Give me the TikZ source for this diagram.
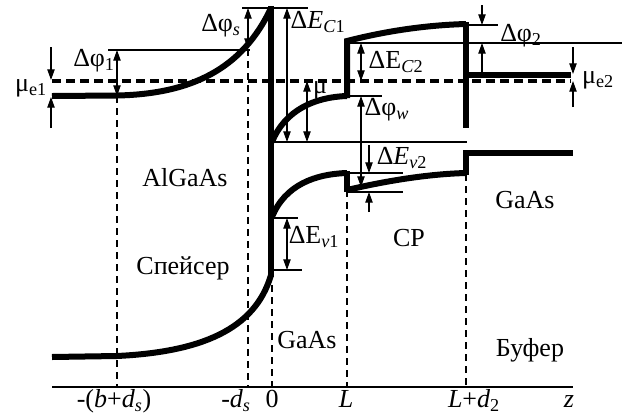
\documentclass[tikz,border=0pt]{standalone}
\usepackage{fontspec}
\setmainfont{Liberation Serif}
\usetikzlibrary{arrows.meta}
\begin{document}
\begin{tikzpicture}[x=0.75pt,y=-0.75pt,
  band/.style={line width=4.5pt,line join=miter,line cap=butt},
  fine/.style={line width=0.9pt},
  tip/.tip={Triangle[length=8pt,width=5.5pt]},
  arr/.style={fine,-tip},
  dbl/.style={fine,tip-tip},
  vdash/.style={line width=1.8pt,dash pattern=on 5.5pt off 3.5pt},
  hdash/.style={line width=2.6pt,dash pattern=on 6.5pt off 4pt},
  lbl/.style={font=\fontsize{19.5}{22}\selectfont,inner sep=0pt},
  axlbl/.style={lbl,anchor=base}]
\useasboundingbox (0,0) rectangle (622,419);

% dashed vertical lines
\draw[vdash] (117,96) -- (117,387);
\draw[vdash] (248,49) -- (248,387);
\draw[vdash] (272,285) -- (272,387);
\draw[vdash] (347,190) -- (347,387);
\draw[vdash] (466,174) -- (466,387);

% chemical potential (dashed)
\draw[hdash] (52,81) -- (571,81);

% thin reference lines
\draw[fine] (242,8) -- (308,8);
\draw[fine] (108,50) -- (250,50);
\draw[fine] (272,142) -- (467,142);
\draw[fine] (347,43) -- (622,43);
\draw[fine] (347,96) -- (382,96);
\draw[fine] (466,25) -- (498,25);
\draw[fine] (272,218) -- (298,218);
\draw[fine] (272,270) -- (302,270);
\draw[fine] (347,173) -- (403,173);
\draw[fine] (347,192) -- (403,192);

% bands
\draw[band] (52,96) -- (117,95.5) .. controls (190,94) and (242,70) .. (271,8);
\draw[band] (52,357) -- (117,356) .. controls (200,352) and (255,330) .. (271,275);
\draw[band] (271,6) -- (271,277);
\draw[band] (272,142) .. controls (285,110) and (315,97) .. (347,96);
\draw[band] (347,98) -- (347,41) .. controls (390,30) and (430,25) .. (466,24);
\draw[band] (466,22) -- (466,128);
\draw[band] (466,75) -- (571,75);
\draw[band] (272,217) .. controls (285,185) and (315,174) .. (347,173);
\draw[band] (347,171) -- (347,192);
\draw[band] (347,190) .. controls (390,180) and (430,174) .. (466,173);
\draw[band] (466,175) -- (466,153) -- (573,153);

% axis
\draw[line width=2.2pt] (52,387) -- (573,387);

% dimension arrows
\draw[arr] (51,47) -- (51,80);
\draw[arr] (51,128) -- (51,97);
\draw[dbl] (117,50) -- (117,96);
\draw[dbl] (248,8) -- (248,49);
\draw[dbl] (287,8) -- (287,142);
\draw[dbl] (307,81) -- (307,142);
\draw[dbl] (361,43) -- (361,81);
\draw[dbl] (361,96) -- (361,187);
\draw[arr] (369,145) -- (369,173);
\draw[arr] (369,212) -- (369,192);
\draw[arr] (482,5) -- (482,25);
\draw[arr] (482,73) -- (482,43);
\draw[arr] (573,47) -- (573,74);
\draw[arr] (573,107) -- (573,81);
\draw[dbl] (287,218) -- (287,270);

% labels
\node[lbl] (me1) at (31,88) {μ\textsubscript{e1}};
\node[lbl] (dp1) at (94,61) {Δφ\textsubscript{1}};
\node[lbl] (dps) at (221,26) {Δφ\textsubscript{\textit{s}}};
\node[lbl] (dec1) at (318,22) {Δ\textit{E}\textsubscript{\textit{C}1}};
\node[lbl] (mu) at (320,90) {μ};
\node[lbl] (dec2) at (396,62) {ΔE\textsubscript{\textit{C}2}};
\node[lbl] (dpw) at (387,110) {Δφ\textsubscript{\textit{w}}};
\node[lbl] (dp2) at (521,36) {Δφ\textsubscript{2}};
\node[lbl] (me2) at (598,80) {μ\textsubscript{e2}};
\node[lbl] (dev2) at (402,158) {Δ\textit{E}\textsubscript{\textit{v}2}};
\node[lbl] (dev1) at (314,237) {ΔE\textsubscript{\textit{v}1}};
\node[lbl] (algaas) at (185,178) {AlGaAs};
\node[lbl] (spacer) at (183,268) {Спейсер};
\node[lbl] (gaas1) at (307,340) {GaAs};
\node[lbl] (sl) at (409,238) {СР};
\node[lbl] (gaas2) at (525,200) {GaAs};
\node[lbl] (buf) at (530,350) {Буфер};

% axis labels
\node[axlbl] (t1) at (114,407) {-(\textit{b}+\textit{d}\textsubscript{\textit{s}})};
\node[axlbl] (t2) at (236,407) {-\textit{d}\textsubscript{\textit{s}}};
\node[axlbl] (t3) at (272,407) {0};
\node[axlbl] (t4) at (346,407) {\textit{L}};
\node[axlbl] (t5) at (474,407) {\textit{L}+\textit{d}\textsubscript{2}};
\node[axlbl] (t6) at (569,407) {\textit{z}};
\end{tikzpicture}
\end{document}
